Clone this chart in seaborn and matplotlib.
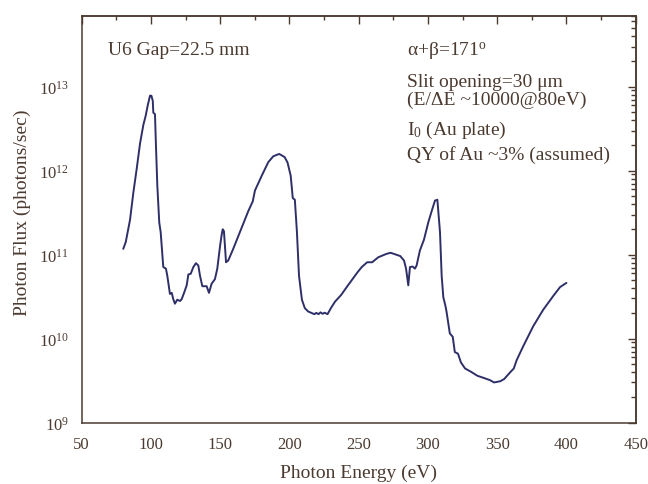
import matplotlib
matplotlib.use("Agg")
import matplotlib.pyplot as plt
import seaborn as sns
import pandas as pd
from matplotlib.ticker import MultipleLocator, LogLocator, LogFormatterMathtext, NullFormatter

# Photon energy (eV) and measured photon flux (photons/sec)
energy_ev = [
    80, 81.8, 84.9, 87.3, 89.7, 92.1, 94.5, 96.2, 97.6, 99.3, 100.3, 101.3,
    101.7, 102.9, 103.6, 104.6, 106, 107, 108.9, 110.8, 111.8, 113.7, 115,
    116.1, 117.3, 119, 121, 122.2, 123.9, 125.8, 127, 128.7, 130.6, 132.5,
    134.2, 135.4, 137.1, 140.2, 141.9, 143.8, 146.2, 147.9, 149.8, 151,
    151.8, 152.7, 154.2, 155.8, 159.4, 164.3, 167.9, 170.3, 173.5, 175.1,
    180, 184.7, 188.3, 192.6, 196.5, 198.6, 200.9, 202.4, 203.9, 205.4,
    206.9, 209, 211.1, 213.5, 216.4, 218, 219.4, 221, 222.4, 224, 225.4,
    227.5, 229.9, 232.9, 237.3, 241.8, 244.8, 249.3, 252.2, 256.1, 259.7,
    264.2, 270.1, 273.1, 277.6, 280, 282.7, 284.2, 285.8, 287, 289, 290.6,
    291.8, 294.2, 297.1, 300.2, 302.7, 305.1, 306.8, 308.7, 309.9, 311.1,
    312.5, 313.4, 315.8, 317.9, 319.4, 321.7, 323.8, 326.8, 331.3, 335.7,
    340.2, 344.7, 347.7, 352.2, 355.1, 359.6, 362, 364, 368.8, 376, 383.2,
    390.4, 395.4, 400,
]
flux = [
    1.17e11, 1.41e11, 2.6e11, 5.5e11, 1.05e12, 2.1e12, 3.5e12, 4.5e12,
    5.9e12, 7.8e12, 7.8e12, 6.8e12, 4.9e12, 4.7e12, 2.0e12, 6.6e11, 2.4e11,
    1.86e11, 7.1e10, 6.8e10, 5.6e10, 3.4e10, 3.5e10, 2.95e10, 2.6e10,
    2.9e10, 2.8e10, 2.95e10, 3.5e10, 4.3e10, 5.8e10, 5.9e10, 7.1e10,
    7.9e10, 7.4e10, 5.6e10, 4.2e10, 4.2e10, 3.5e10, 4.5e10, 5.1e10, 6.8e10,
    1.23e11, 1.7e11, 2.0e11, 1.9e11, 8.1e10, 8.5e10, 1.17e11, 1.86e11,
    2.6e11, 3.3e11, 4.3e11, 5.8e11, 8.7e11, 1.26e12, 1.48e12, 1.58e12,
    1.45e12, 1.25e12, 8.7e11, 4.7e11, 4.5e11, 1.85e11, 5.6e10, 2.9e10,
    2.3e10, 2.1e10, 2.0e10, 1.95e10, 2.02e10, 1.95e10, 2.05e10, 1.97e10,
    2.03e10, 1.95e10, 2.3e10, 2.75e10, 3.3e10, 4.2e10, 4.9e10, 6.2e10,
    7.1e10, 8.1e10, 8.1e10, 9.3e10, 1.02e11, 1.05e11, 9.9e10, 9.6e10,
    8.5e10, 6.8e10, 4.3e10, 7.1e10, 7.2e10, 6.8e10, 7.4e10, 1.12e11,
    1.5e11, 2.4e11, 3.3e11, 4.4e11, 4.5e11, 1.85e11, 5.6e10, 3.1e10,
    2.5e10, 2.1e10, 1.15e10, 1.05e10, 6.9e9, 6.6e9, 5.2e9, 4.4e9, 4.0e9,
    3.6e9, 3.4e9, 3.2e9, 3.0e9, 3.1e9, 3.3e9, 4.0e9, 4.4e9, 5.5e9, 8.1e9,
    1.4e10, 2.2e10, 3.2e10, 4.1e10, 4.6e10,
]

x_ticks = [50, 100, 150, 200, 250, 300, 350, 400, 450]

ink = "#4b3a30"
line_color = "#2e2f68"

sns.set_style("white")
plt.rcParams["font.family"] = ["Liberation Serif", "DejaVu Serif"]
plt.rcParams["mathtext.fontset"] = "custom"
plt.rcParams["mathtext.rm"] = "Liberation Serif"
plt.rcParams["mathtext.it"] = "Liberation Serif:italic"
plt.rcParams["mathtext.bf"] = "Liberation Serif:bold"
plt.rcParams.update({
    "text.color": ink,
    "axes.labelcolor": ink,
    "axes.edgecolor": ink,
    "xtick.color": ink,
    "ytick.color": ink,
    "axes.linewidth": 1.1,
})

df = pd.DataFrame({"energy": energy_ev, "flux": flux})

fig = plt.figure(figsize=(6.48, 4.85), dpi=100)
ax = fig.add_axes([0.1261, 0.1268, 0.981 - 0.1261, 0.9656 - 0.1268])
ax.set_yscale("log")

sns.lineplot(data=df, x="energy", y="flux", sort=False, estimator=None,
             color=line_color, linewidth=1.4, ax=ax)

ax.set_xlim(50, 450)
ax.set_ylim(1e9, 7e13)
ax.set_xticks(x_ticks)
ax.xaxis.set_minor_locator(MultipleLocator(25))
ax.yaxis.set_major_locator(LogLocator(base=10, numticks=10))
ax.yaxis.set_minor_locator(LogLocator(base=10, subs=range(2, 10), numticks=20))
ax.yaxis.set_major_formatter(LogFormatterMathtext())
ax.yaxis.set_minor_formatter(NullFormatter())

ax.tick_params(axis="x", which="major", direction="out", length=5.8, width=1.0,
               pad=4.0, labelsize=12, top=False)
ax.tick_params(axis="x", which="minor", direction="out", length=3.6, width=1.0,
               top=False)
ax.tick_params(axis="y", which="major", direction="out", length=6.0, width=1.0,
               pad=3.0, labelsize=12, right=False)
ax.tick_params(axis="y", which="minor", direction="out", length=3.5, width=1.0,
               right=False)

# inward ticks on the top and right frame edges
top = ax.secondary_xaxis("top")
top.set_xticks(x_ticks)
top.xaxis.set_minor_locator(MultipleLocator(25))
top.tick_params(axis="x", which="major", direction="in", length=5.8, width=1.0,
                labeltop=False)
top.tick_params(axis="x", which="minor", direction="in", length=3.2, width=1.0)

right = ax.secondary_yaxis("right")
right.yaxis.set_major_locator(LogLocator(base=10, numticks=10))
right.yaxis.set_minor_locator(LogLocator(base=10, subs=range(2, 10), numticks=20))
right.yaxis.set_minor_formatter(NullFormatter())
right.tick_params(axis="y", which="major", direction="in", length=6.0, width=1.0,
                  labelright=False)
right.tick_params(axis="y", which="minor", direction="in", length=3.5, width=1.0)

ax.set_xlabel("Photon Energy (eV)", fontsize=14)
ax.set_ylabel("Photon Flux (photons/sec)", fontsize=14)
ax.xaxis.set_label_coords(0.5, -0.102)
ax.yaxis.set_label_coords(-0.092, 0.519)

note = dict(transform=ax.transAxes, fontsize=14, ha="left", va="center")
ax.text(0.0475, 0.918, "U6 Gap=22.5 mm", **note)
ax.text(0.5866, 0.914, r"α+β=171$^{\rm o}$", **note)
ax.text(0.5866, 0.838, "Slit opening=30 μm", **note)
ax.text(0.5866, 0.7935, "(E/ΔE ~10000@80eV)", **note)
ax.text(0.5866, 0.7215, r"I$_{\rm 0}$ (Au plate)", **note)
ax.text(0.5866, 0.660, "QY of Au ~3% (assumed)", **note)

fig.savefig("out.png", dpi=100)
